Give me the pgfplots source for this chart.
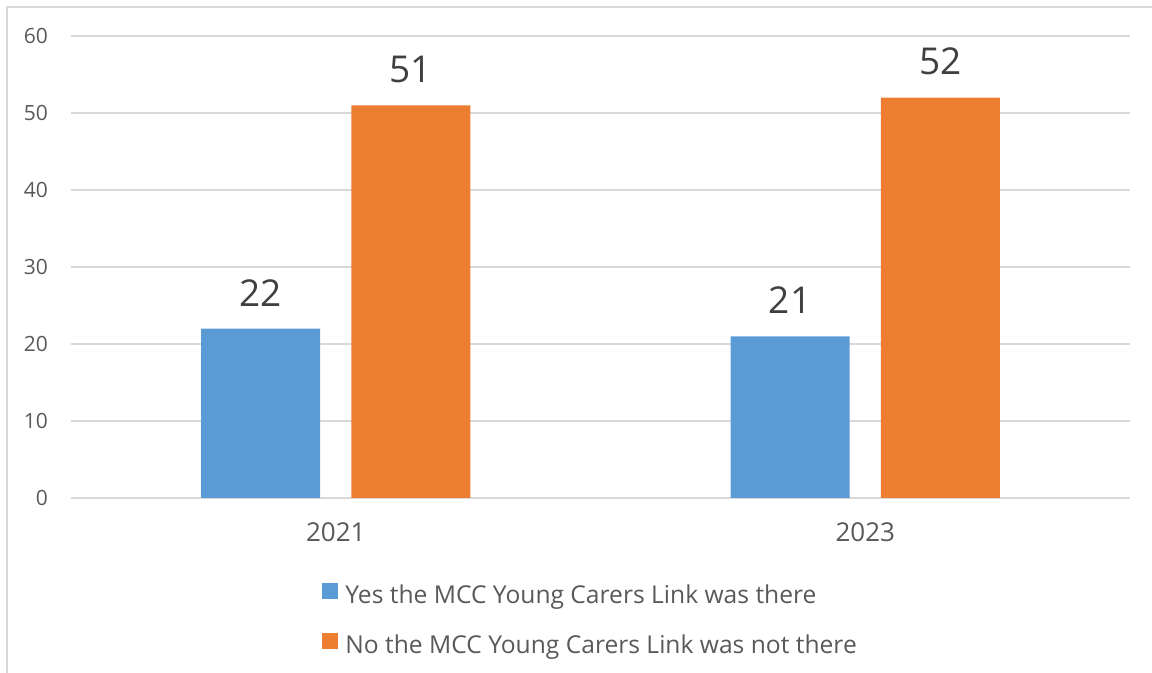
\documentclass[border=0pt]{standalone}
\usepackage{fontspec}
\setmainfont{Open Sans}
\usepackage{pgfplots}
\pgfplotsset{compat=1.18}
\definecolor{cblue}{HTML}{5B9BD5}
\definecolor{corange}{HTML}{ED7D31}
\definecolor{tgray}{HTML}{595959}
\definecolor{lgray}{HTML}{404040}
\definecolor{ggray}{HTML}{D9D9D9}
\begin{document}
\begin{tikzpicture}[x=1pt,y=1pt]
\path[use as bounding box] (0,0) rectangle (576,336.5);
\draw[ggray, line width=0.75pt] (3.5,0) -- (3.5,333) -- (576,333);
\begin{axis}[
  at={(35.5pt,87.5pt)}, anchor=south west,
  scale only axis, width=529.5pt, height=231pt,
  xmin=-0.5, xmax=1.5, ymin=0, ymax=60,
  ytick={0,10,...,60}, xtick={0,1}, xticklabels={2021,2023},
  axis lines=left, axis line style={draw=none}, tick style={draw=none},
  major tick length=0pt,
  ymajorgrids, grid style={ggray, line width=0.75pt},
  /pgf/number format/assume math mode=true,
  yticklabel style={font=\fontsize{10.5}{12}\selectfont, text=tgray, xshift=-8pt},
  xticklabel style={font=\fontsize{13}{15}\selectfont, text=tgray, yshift=-9pt},
  ybar, bar width=59.5pt,
  nodes near coords,
  every node near coord/.append style={font=\fontsize{18.5}{22}\selectfont, text=lgray, anchor=south, inner sep=0pt, yshift=11pt},
  legend style={at={(0.237,-0.267)}, anchor=west, draw=none, fill=none, inner sep=0pt,
    row sep=12pt, font=\fontsize{12.3}{15}\selectfont, text=tgray,
    nodes={inner sep=0pt, text height=10pt, text depth=3pt}},
  legend cell align=left,
  legend image code/.code={\fill[#1, draw=none] (0pt,-1.5pt) rectangle (8pt,6.5pt); \path (11.5pt,0pt);},
]
\addplot[fill=cblue, draw=none, bar shift=-37.6pt] coordinates {(0,22) (1,21)};
\addplot[fill=corange, draw=none, bar shift=37.6pt] coordinates {(0,51) (1,52)};
\legend{Yes the MCC Young Carers Link was there, No the MCC Young Carers Link was not there}
\end{axis}
\end{tikzpicture}
\end{document}
